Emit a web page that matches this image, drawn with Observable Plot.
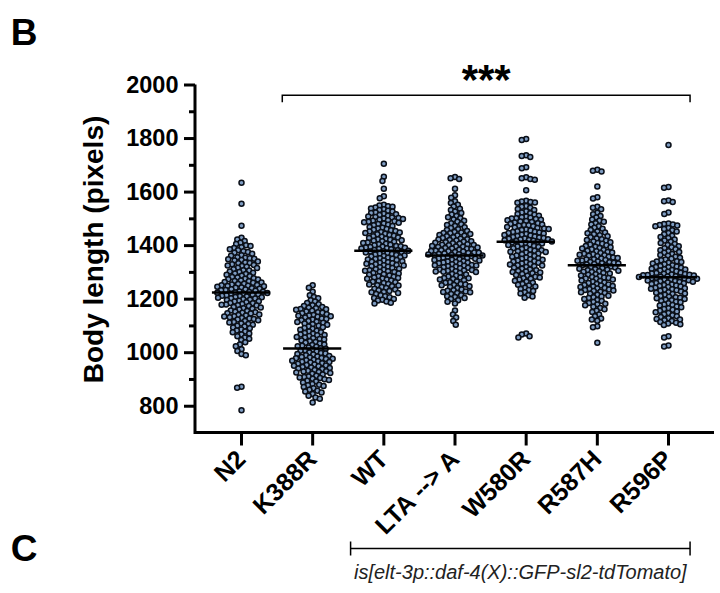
<!DOCTYPE html>
<html><head><meta charset="utf-8">
<script src="https://cdn.jsdelivr.net/npm/d3@7"></script>
<script src="https://cdn.jsdelivr.net/npm/@observablehq/plot@0.6"></script>
<style>html,body{margin:0;padding:0;background:#fff;} svg{display:block;}</style>
</head><body><div id="chart"></div>
<script>
const groups = ["N2", "K388R", "WT", "LTA --> A", "W580R", "R587H", "R596P"];

const n2 = [1635, 1556, 1474,
1429, 1423, 1417, 1411, 1406, 1401,
1399, 1394, 1391, 1386, 1383, 1379, 1376,
1373, 1370, 1364, 1362, 1357, 1355, 1353, 1351,
1349, 1346, 1344, 1341, 1337, 1335, 1334, 1330, 1328, 1326,
1324, 1321, 1317, 1316, 1312, 1308, 1307, 1303, 1301,
1299, 1296, 1294, 1291, 1287, 1286, 1283, 1281, 1278, 1276,
1274, 1273, 1270, 1268, 1267, 1264, 1262, 1261, 1258, 1257, 1255, 1253, 1252, 1250,
1249, 1248, 1246, 1244, 1243, 1241, 1239, 1237, 1236, 1234, 1233, 1231, 1229, 1228, 1227, 1225,
1224, 1223, 1221, 1220, 1218, 1216, 1215, 1213, 1211, 1210, 1208, 1207, 1205, 1203, 1202, 1200,
1198, 1197, 1194, 1192, 1191, 1188, 1186, 1185, 1182, 1180, 1179, 1177, 1176,
1174, 1171, 1169, 1166, 1164, 1161, 1158, 1156, 1153, 1151,
1149, 1147, 1146, 1143, 1141, 1139, 1136, 1135, 1132, 1130, 1128, 1126,
1124, 1121, 1118, 1115, 1113, 1109, 1107, 1104, 1101,
1098, 1094, 1091, 1087, 1083, 1079, 1076,
1072, 1068, 1061, 1057, 1052,
1047, 1039, 1031, 1024, 1013, 1006,
995, 990, 873, 869, 785];

const k388r = [1252, 1243,
1228, 1215, 1208, 1203,
1196, 1191, 1186, 1181, 1177,
1174, 1171, 1168, 1166, 1163, 1162, 1160, 1157, 1154, 1151,
1149, 1147, 1144, 1141, 1139, 1138, 1136, 1134, 1131, 1128, 1126,
1124, 1121, 1118, 1116, 1115, 1112, 1109, 1106, 1104, 1101,
1098, 1095, 1092, 1089, 1086, 1082, 1079, 1076,
1074, 1071, 1068, 1066, 1065, 1062, 1059, 1057, 1054, 1051,
1049, 1046, 1043, 1040, 1037, 1034, 1031, 1029, 1026,
1024, 1022, 1019, 1017, 1015, 1012, 1009, 1007, 1004, 1001,
999, 997, 995, 993, 990, 988, 986, 984, 982, 980, 979, 977, 976,
974, 972, 970, 968, 966, 965, 963, 961, 959, 956, 954, 952, 951,
949, 947, 945, 943, 941, 939, 935, 933, 931, 930, 928, 926,
924, 921, 919, 914, 911, 909, 907, 905, 903, 901,
898, 895, 892, 889, 883, 880, 878, 876,
872, 867, 862, 858, 855, 851,
846, 839, 833, 828, 814];

const wt = [1706, 1657, 1641, 1612, 1584, 1577,
1553, 1550, 1547, 1545, 1542, 1539, 1536, 1533, 1530, 1527,
1524, 1522, 1519, 1517, 1514, 1512, 1509, 1507, 1505, 1503, 1501,
1499, 1497, 1495, 1493, 1491, 1489, 1487, 1485, 1483, 1481, 1478, 1476,
1473, 1470, 1467, 1464, 1462, 1459, 1457, 1455, 1453, 1451,
1449, 1447, 1444, 1442, 1440, 1437, 1435, 1433, 1430, 1428, 1426,
1424, 1422, 1420, 1418, 1416, 1414, 1412, 1410, 1407, 1405, 1403, 1401,
1399, 1398, 1396, 1395, 1393, 1392, 1390, 1389, 1387, 1386, 1384, 1383, 1381, 1379, 1378, 1376,
1374, 1372, 1370, 1369, 1367, 1365, 1363, 1361, 1359, 1357, 1355, 1353, 1351, 1350,
1348, 1346, 1344, 1342, 1340, 1338, 1336, 1334, 1332, 1330, 1328, 1327, 1326,
1323, 1321, 1319, 1316, 1314, 1312, 1310, 1308, 1306, 1304, 1302, 1301,
1298, 1296, 1293, 1291, 1288, 1286, 1284, 1281, 1279, 1277, 1276,
1273, 1270, 1268, 1265, 1263, 1260, 1257, 1255, 1252, 1251,
1248, 1245, 1242, 1239, 1236, 1233, 1230, 1227, 1226,
1223, 1219, 1215, 1211, 1207, 1204, 1201,
1198, 1195, 1191, 1187, 1184];

const lta = [1656, 1652, 1649, 1612, 1588, 1579,
1566, 1559, 1553,
1546, 1538, 1533, 1527,
1522, 1516, 1511, 1506, 1502,
1498, 1493, 1489, 1484, 1480, 1477,
1473, 1469, 1466, 1461, 1458, 1455, 1451,
1449, 1447, 1446, 1443, 1440, 1438, 1437, 1435, 1431, 1428, 1426,
1424, 1423, 1421, 1419, 1416, 1414, 1413, 1411, 1409, 1407, 1405, 1403, 1402, 1401,
1399, 1397, 1396, 1395, 1393, 1391, 1389, 1388, 1387, 1385, 1383, 1381, 1380, 1379, 1378, 1376,
1374, 1373, 1372, 1371, 1369, 1368, 1367, 1365, 1364, 1363, 1361, 1360, 1358, 1357, 1355, 1354, 1352, 1351,
1349, 1347, 1346, 1344, 1342, 1341, 1339, 1337, 1336, 1334, 1332, 1330, 1328, 1327, 1326, 1325,
1323, 1321, 1319, 1317, 1315, 1313, 1311, 1309, 1307, 1306, 1304, 1303, 1302, 1301,
1298, 1294, 1292, 1287, 1285, 1281, 1279, 1278, 1275,
1273, 1271, 1266, 1263, 1261, 1257, 1255, 1253, 1252,
1248, 1245, 1242, 1236, 1233, 1231, 1229, 1227, 1226,
1223, 1219, 1215, 1211, 1208, 1204, 1201,
1196, 1190, 1184,
1158, 1143, 1131, 1118, 1104];

const w580r = [1798, 1795, 1738, 1735, 1731, 1693, 1689,
1655, 1652, 1649, 1646, 1607,
1568, 1565, 1563, 1561, 1560,
1548, 1545, 1541, 1537, 1533, 1528,
1524, 1521, 1518, 1515, 1512, 1509, 1506, 1504, 1502, 1501,
1499, 1497, 1495, 1492, 1490, 1488, 1486, 1484, 1481, 1479, 1477, 1476,
1474, 1472, 1470, 1468, 1466, 1464, 1462, 1460, 1458, 1456, 1454, 1452, 1451,
1449, 1447, 1445, 1443, 1441, 1440, 1438, 1436, 1434, 1432, 1430, 1428, 1427, 1426,
1424, 1423, 1421, 1420, 1418, 1417, 1415, 1414, 1412, 1410, 1408, 1406, 1404, 1402,
1399, 1397, 1395, 1392, 1390, 1387, 1385, 1383, 1381, 1379, 1377, 1376,
1374, 1371, 1368, 1366, 1363, 1361, 1358, 1356, 1353, 1351,
1349, 1347, 1344, 1342, 1340, 1338, 1336, 1333, 1331, 1329, 1327, 1326,
1323, 1320, 1317, 1314, 1311, 1308, 1305, 1303, 1301, 1300,
1297, 1294, 1290, 1287, 1284, 1281, 1278, 1276,
1273, 1269, 1265, 1261, 1257, 1254, 1251,
1247, 1243, 1238, 1234, 1230, 1226,
1221, 1215, 1210, 1205,
1072, 1068, 1061, 1057];

const r587h = [1683, 1680, 1677, 1621, 1581, 1576,
1545, 1541, 1536,
1523, 1517, 1511, 1505,
1498, 1493, 1489, 1484, 1479,
1472, 1467, 1463, 1458, 1453,
1449, 1446, 1442, 1439, 1435, 1431, 1427,
1424, 1421, 1418, 1415, 1413, 1410, 1407, 1404, 1401,
1399, 1396, 1394, 1391, 1389, 1386, 1384, 1381, 1379, 1376,
1374, 1372, 1370, 1368, 1366, 1364, 1362, 1360, 1358, 1356, 1354, 1352,
1349, 1348, 1346, 1344, 1343, 1341, 1339, 1338, 1336, 1334, 1333, 1331, 1329, 1327, 1326,
1324, 1322, 1320, 1318, 1316, 1314, 1312, 1310, 1308, 1306, 1304, 1302, 1301,
1298, 1296, 1293, 1291, 1288, 1286, 1283, 1281, 1279, 1277, 1276,
1273, 1270, 1268, 1265, 1262, 1260, 1257, 1255, 1253, 1251,
1249, 1247, 1245, 1242, 1240, 1238, 1236, 1234, 1232, 1230, 1228, 1226,
1223, 1220, 1216, 1213, 1210, 1207, 1204, 1201,
1197, 1193, 1189, 1186, 1183, 1180, 1177,
1172, 1167, 1162, 1157, 1152,
1143, 1136, 1128,
1124, 1119, 1099, 1095, 1037];

const r596p = [1776, 1619, 1616, 1569, 1566, 1563, 1524, 1518,
1483, 1481, 1479, 1477, 1475, 1472,
1466, 1462, 1457, 1453,
1447, 1442, 1437, 1432, 1428,
1423, 1419, 1414, 1410, 1406, 1402,
1398, 1394, 1390, 1386, 1383, 1379, 1376,
1373, 1369, 1365, 1362, 1358, 1355, 1351,
1348, 1345, 1342, 1341, 1339, 1336, 1333, 1330, 1327,
1324, 1322, 1320, 1319, 1317, 1314, 1312, 1311, 1309, 1307, 1304, 1302,
1299, 1298, 1296, 1295, 1294, 1292, 1291, 1290, 1289, 1288, 1286, 1285, 1284, 1283, 1281, 1280, 1278, 1277, 1276,
1274, 1273, 1271, 1270, 1268, 1267, 1265, 1264, 1262, 1260, 1259, 1257, 1255, 1253, 1251,
1249, 1247, 1245, 1243, 1241, 1239, 1237, 1235, 1233, 1231, 1229, 1226,
1224, 1221, 1219, 1216, 1212, 1209, 1207, 1205, 1203, 1201,
1198, 1196, 1193, 1190, 1188, 1185, 1180, 1178, 1176,
1173, 1170, 1166, 1163, 1160, 1157, 1154, 1151,
1148, 1144, 1140, 1136, 1133, 1129, 1126,
1124, 1121, 1118, 1115, 1112, 1109, 1106, 1103,
1061, 1057, 1027, 1023];

const yTicks = [800, 1000, 1200, 1400, 1600, 1800, 2000];
const yMinorTicks = [900, 1100, 1300, 1500, 1700, 1900];
const yTitle = "Body length (pixels)";
const significance = "***";
const transgeneLabel = "is[elt-3p::daf-4(X)::GFP-sl2-tdTomato]";
const panelLabels = ["B", "C"];

const series = [n2, k388r, wt, lta, w580r, r587h, r596p];
const data = groups.flatMap((g, i) => series[i].map(v => ({group: g, value: v})));

const W = 720, H = 593, mL = 195, mR = 6, mT = 84.5, mB = 160.5;
const po = 0.1464;
const step = (W - mL - mR) / (groups.length + 2 * po);
const yOffset = -po * step;
const font = "'Liberation Sans', Arial, Helvetica, sans-serif";

const plot = Plot.plot({
  width: W, height: H, marginLeft: mL, marginRight: mR, marginTop: mT, marginBottom: mB,
  style: {fontFamily: font, color: "#000", background: "#fff"},
  x: {axis: null},
  fx: {domain: groups, paddingInner: 0, paddingOuter: po, round: false, label: null},
  y: {domain: [700, 2000], label: null},
  marks: [
    Plot.axisY({ticks: yMinorTicks, tickSize: 6, tickFormat: () => "", strokeWidth: 3, dx: yOffset, label: null}),
    Plot.axisY({ticks: yTicks, tickSize: 11, tickPadding: 6, tickFormat: d3.format("d"), fontSize: 23.5, fontWeight: "bold", strokeWidth: 3, dx: yOffset, label: null}),
    Plot.axisFx({anchor: "bottom", tickSize: 13, tickPadding: 9, tickRotate: -45, fontSize: 25, fontWeight: "bold", strokeWidth: 3, label: null}),
    Plot.dot(data, Plot.dodgeX({anchor: "middle", padding: -0.5}, {fx: "group", y: "value", r: 2.5, fill: "#7e9cc2", stroke: "#0a0f18", strokeWidth: 1.5})),
    Plot.tickY(data, Plot.groupZ({y: "median"}, {fx: "group", y: "value", stroke: "#000", strokeWidth: 2.5, insetLeft: 6.5, insetRight: 6.5}))
  ]
});
document.getElementById("chart").appendChild(plot);

// annotations derived from the plot's own scales
const svg = d3.select(plot);
const ys = plot.scale("y"), fxs = plot.scale("fx");
const cx = g => fxs.apply(g) + fxs.bandwidth / 2;
const x0 = fxs.range[0], x1 = fxs.range[1];
const yTop = ys.apply(d3.max(ys.domain)), yBot = ys.apply(d3.min(ys.domain));
svg.append("path").attr("d", `M${x0},${yTop}V${yBot}H${x1}`)
  .attr("fill", "none").attr("stroke", "#000").attr("stroke-width", 3);

// y title
svg.append("text").attr("transform", `translate(${x0 - 92},${(yTop + yBot) / 2 - 9}) rotate(-90)`)
  .attr("text-anchor", "middle").attr("font-family", font).attr("font-weight", "bold")
  .attr("font-size", 28).attr("fill", "#000").text(yTitle);

// significance bracket
const by = ys.apply(1960);
const bxL = cx("K388R") - 0.42 * fxs.step, bxR = cx("R596P") + 0.31 * fxs.step;
svg.append("path").attr("d", `M${bxL},${by + 7}V${by}H${bxR}V${by + 7}`)
  .attr("fill", "none").attr("stroke", "#000").attr("stroke-width", 1.5);
svg.append("text").attr("x", (bxL + bxR) / 2).attr("y", by - 1).attr("text-anchor", "middle")
  .attr("font-family", font).attr("font-weight", "bold").attr("font-size", 42).attr("fill", "#000").text(significance);

// transgene bracket
const ty = yBot + 116;
const txL = cx("WT") - 0.46 * fxs.step, txR = cx("R596P") + 0.31 * fxs.step;
svg.append("path").attr("d", `M${txL},${ty - 7}V${ty + 7}M${txL},${ty}H${txR}M${txR},${ty - 7}V${ty + 7}`)
  .attr("fill", "none").attr("stroke", "#000").attr("stroke-width", 1.5);
svg.append("text").attr("x", (txL + txR) / 2).attr("y", ty + 30).attr("text-anchor", "middle")
  .attr("font-family", font).attr("font-style", "italic").attr("font-size", 20).attr("fill", "#222").text(transgeneLabel);

// panel letters
svg.append("text").attr("x", 24).attr("y", 45).attr("font-family", font).attr("font-weight", "bold")
  .attr("font-size", 37).attr("fill", "#000").text(panelLabels[0]);
svg.append("text").attr("x", 24).attr("y", 561).attr("font-family", font).attr("font-weight", "bold")
  .attr("font-size", 37).attr("fill", "#000").text(panelLabels[1]);
</script>
</body></html>
